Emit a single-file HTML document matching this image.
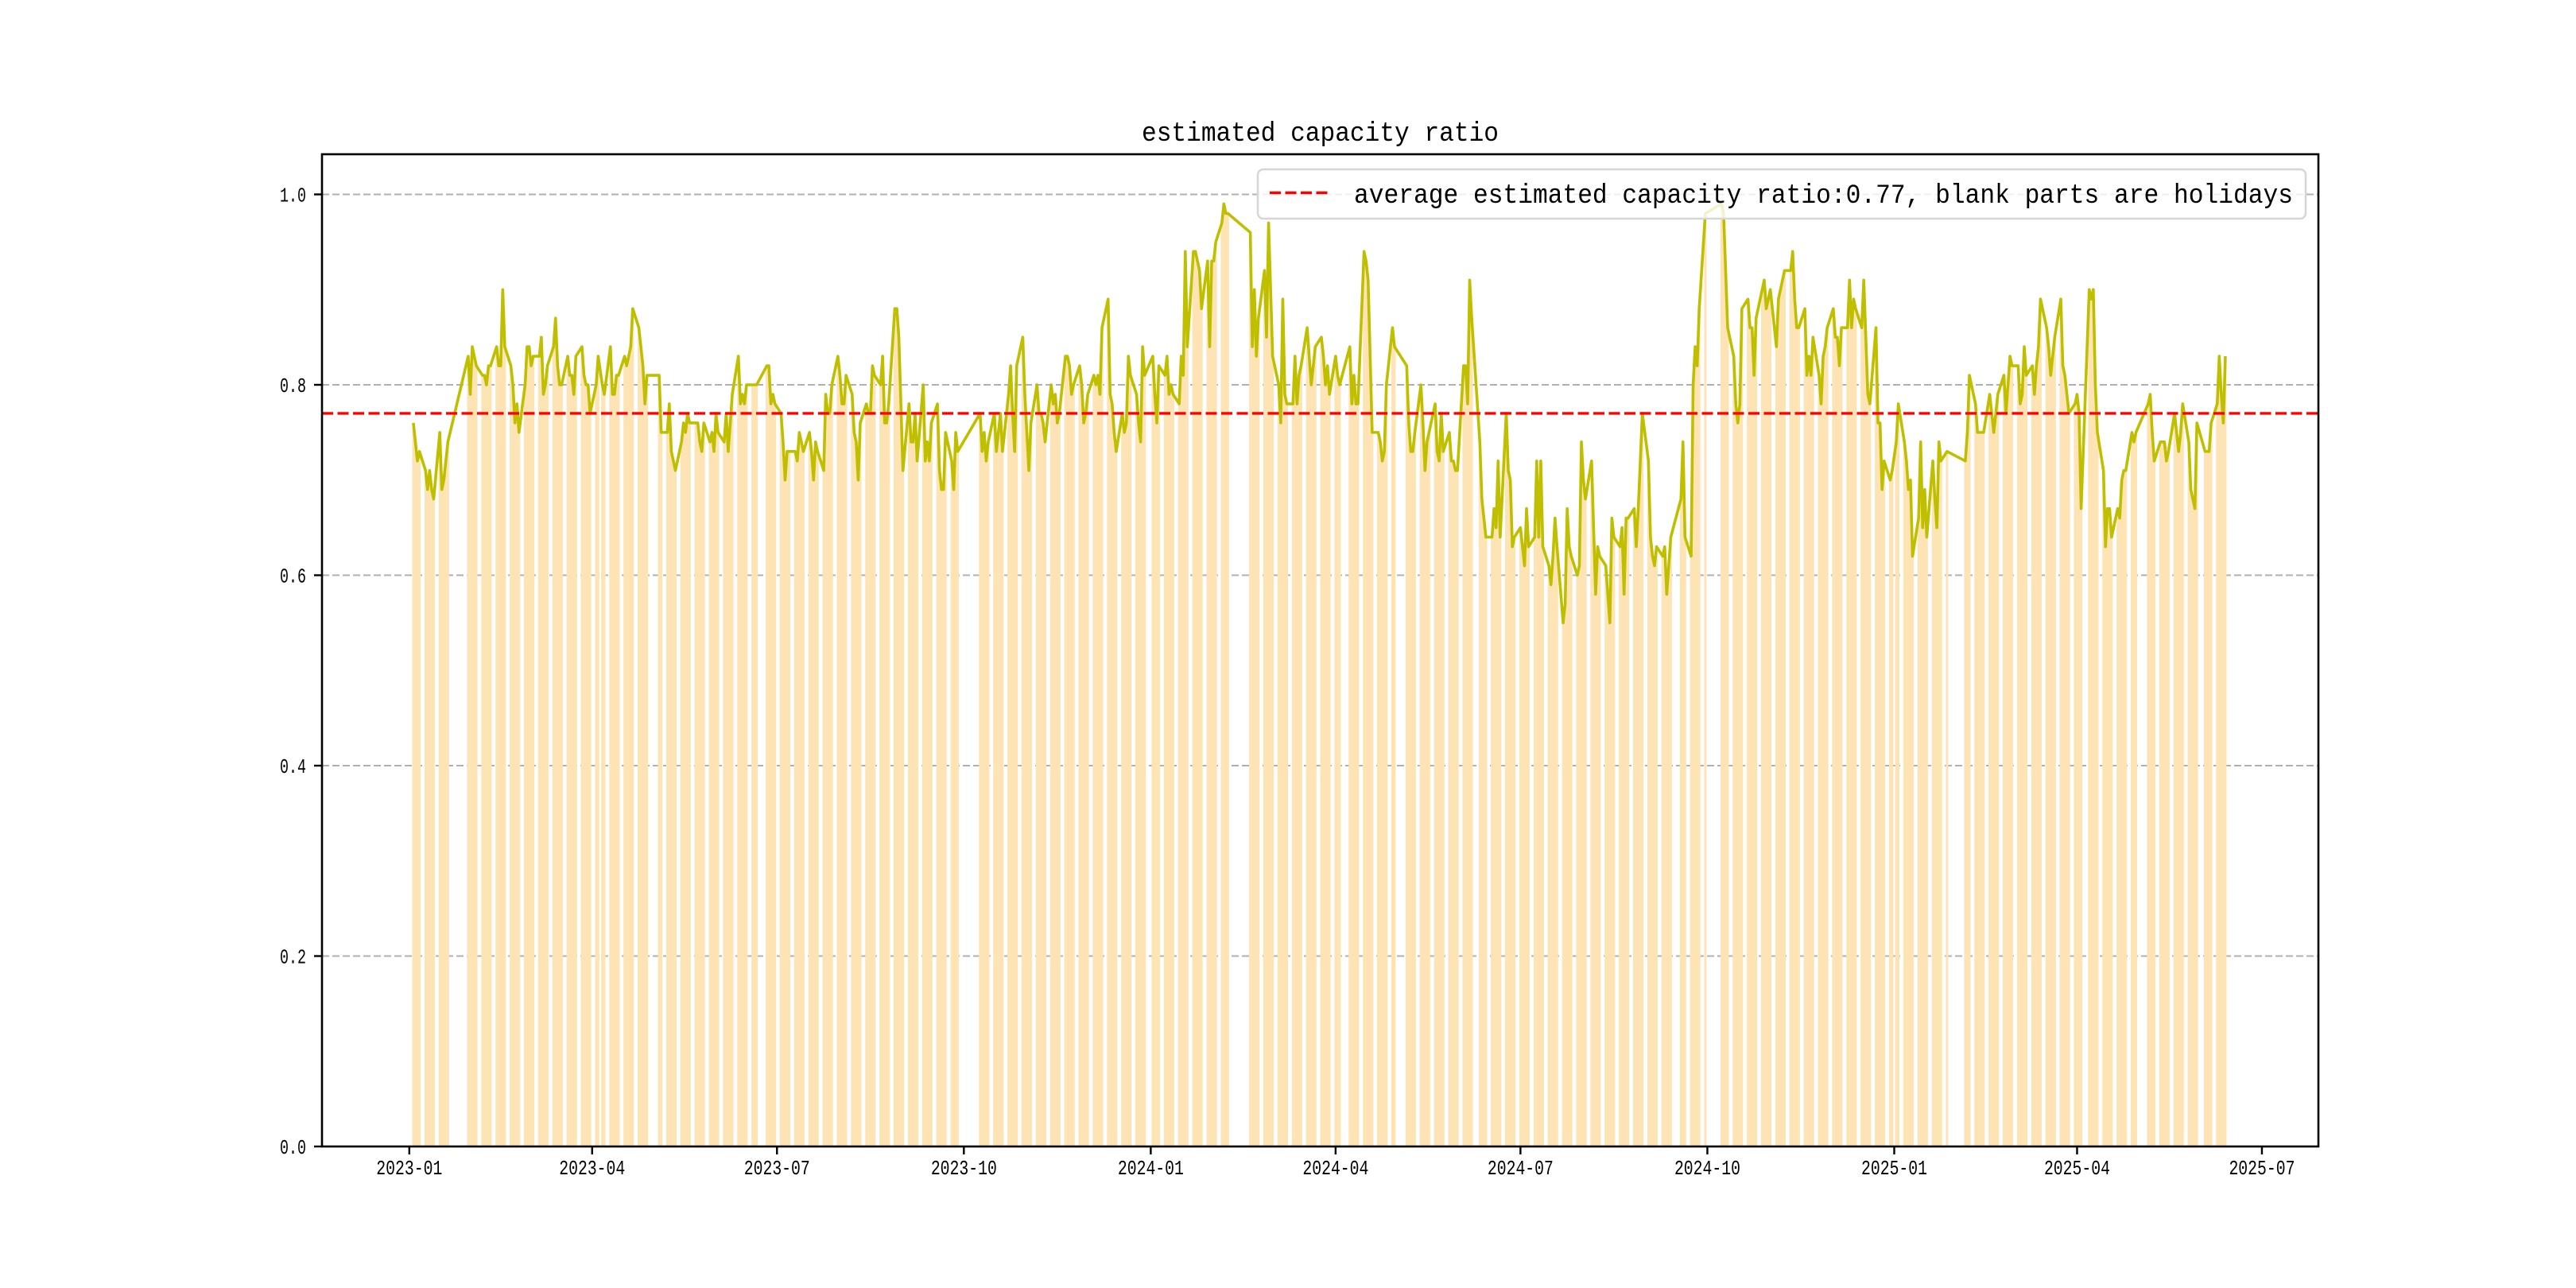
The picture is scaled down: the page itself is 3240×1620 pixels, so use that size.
<!DOCTYPE html>
<html><head><meta charset="utf-8"><title>estimated capacity ratio</title>
<style>html,body{margin:0;padding:0;background:#fff}svg{display:block}</style></head>
<body>
<svg id="chart" xmlns="http://www.w3.org/2000/svg" width="3240" height="1620" viewBox="0 0 3240 1620">
<rect x="0" y="0" width="3240" height="1620" fill="#fff"/>
<g id="grid"></g>
<g id="bars"></g>
<path id="series" fill="none" stroke="#bfbf00" stroke-width="3.6" stroke-linejoin="round"/>
<line id="avg" stroke="#ff0000" stroke-width="3.4" stroke-dasharray="14 5.5"/>
<rect x="405" y="194" width="2511" height="1248" fill="none" stroke="#000" stroke-width="2.6"/>
<g id="xticks"></g>
<g id="yticks"></g>
<text x="1660.5" y="177" text-anchor="middle" font-family="Liberation Mono, monospace" font-size="34" textLength="449" lengthAdjust="spacingAndGlyphs" fill="#000">estimated capacity ratio</text>
<g>
<rect x="1582" y="213" width="1318" height="62" rx="7" ry="7" fill="#fff" fill-opacity="0.8" stroke="#d6d6d6" stroke-width="2.5"/>
<line x1="1597" y1="242.5" x2="1671" y2="242.5" stroke="#ff0000" stroke-width="3.4" stroke-dasharray="14 5.5"/>
<text x="1703" y="255" font-family="Liberation Mono, monospace" font-size="34" textLength="1181" lengthAdjust="spacingAndGlyphs" fill="#000">average estimated capacity ratio:0.77, blank parts are holidays</text>
</g>
</svg>
<script>
// ---- data (values in hundredths; one row per Mon..Fri week, null = holiday) ----
const startMonday = '2023-01-02';
const weekValues = [
[null,76,74,72,73],[71,69,71,69,68],[75,69,70,72,74],[null,null,null,null,null],
[83,79,84,83,82],[81,81,80,82,82],[84,82,82,90,84],[82,80,76,78,75],
[80,84,84,82,83],[83,85,79,80,82],[84,87,82,80,80],[83,81,81,79,83],
[84,81,80,80,77],[80,83,null,80,79],[84,79,79,81,81],[83,82,83,84,88],
[86,84,82,78,81],[null,null,null,81,75],[75,78,73,72,71],[74,76,75,77,76],
[76,76,74,73,76],[74,75,73,77,75],[74,77,73,76,79],[83,78,79,78,80],
[80,80,80,null,null],[82,82,78,79,78],[77,74,70,73,73],[73,72,75,74,73],
[75,73,70,74,73],[71,79,77,77,80],[83,81,78,78,81],[79,75,74,70,76],
[78,77,77,82,81],[80,83,76,76,78],[88,88,85,78,71],[78,74,74,77,72],
[80,72,74,72,76],[78,71,69,69,75],[72,69,75,73,null],[null,null,null,null,null],
[77,73,75,72,74],[77,73,75,77,73],[79,82,77,73,82],[85,79,75,71,76],
[80,77,77,76,74],[80,78,79,76,77],[83,83,82,79,80],[82,80,76,77,79],
[81,80,81,79,86],[89,79,78,75,73],[77,75,76,83,81],[79,76,74,84,81],
[null,83,79,76,82],[81,83,79,80,79],[78,83,81,94,84],[94,94,93,92,88],
[93,84,93,93,95],[97,99,98,98,null],[null,null,null,null,null],[96,84,90,83,87],
[92,85,97,90,83],[80,76,89,79,78],[78,83,78,81,82],[86,83,80,82,84],
[85,83,80,82,79],[83,81,80,null,null],[84,78,81,78,78],[94,93,91,83,75],
[75,74,72,73,80],[86,84,null,null,null],[82,76,73,73,75],[80,76,71,74,75],
[78,73,72,77,73],[75,72,72,71,71],[82,82,78,91,87],[null,74,68,66,64],
[64,67,65,72,64],[77,71,70,63,64],[65,63,61,67,63],[64,72,64,72,63],
[61,59,62,66,63],[55,57,67,63,62],[60,61,74,70,68],[72,65,58,63,62],
[61,58,55,66,64],[63,65,58,66,66],[67,63,67,72,77],[72,64,62,61,63],
[62,63,58,61,64],[null,null,68,74,64],[62,80,84,82,88],[98,null,null,null,null],
[null,99,98,92,86],[83,78,76,78,88],[89,86,86,81,87],[90,91,88,89,90],
[84,89,90,91,92],[92,94,89,86,86],[88,81,83,81,85],[81,78,83,84,86],
[88,85,85,82,86],[86,91,86,89,88],[86,91,85,79,78],[86,76,76,69,72],
[70,71,null,74,78],[74,72,69,70,62],[66,74,65,69,64],[72,68,65,74,72],
[73,null,null,null,null],[null,null,72,75,81],[78,75,75,75,75],[79,77,75,77,79],
[81,77,80,83,82],[82,78,79,84,81],[82,79,82,84,89],[86,84,81,83,85],
[89,82,81,79,77],[78,79,77,67,null],[90,89,90,80,75],[71,63,67,67,64],
[67,66,70,71,71],[75,74,75,null,null],[null,78,79,75,72],[74,74,74,72,73],
[77,75,73,75,78],[74,69,68,67,76],[null,73,73,73,76],[78,83,79,76,83]
];
const averageValue = 0.77;
const yTickValues = [0.0, 0.2, 0.4, 0.6, 0.8, 1.0];
const yTickLabels = ['0.0', '0.2', '0.4', '0.6', '0.8', '1.0'];
const xTickDates = ['2023-01-01','2023-04-01','2023-07-01','2023-10-01','2024-01-01','2024-04-01','2024-07-01','2024-10-01','2025-01-01','2025-04-01','2025-07-01'];
const xTickLabels = ['2023-01','2023-04','2023-07','2023-10','2024-01','2024-04','2024-07','2024-10','2025-01','2025-04','2025-07'];

// ---- axes ----
const NS = 'http://www.w3.org/2000/svg';
const DAY = 86400000;
const T0 = Date.UTC(2023, 0, 1);
const PLOT = {left: 405, right: 2916, top: 194, bottom: 1442};
function parseDate(s){ const p = s.split('-').map(Number); return Date.UTC(p[0], p[1]-1, p[2]); }
function xScale(t){ return 514.8 + 2.555 * (t - T0) / DAY; }
function yScale(v){ return 1442 - v * 1197.5; }
function mk(tag, attrs){ const e = document.createElementNS(NS, tag); for (const k in attrs) e.setAttribute(k, attrs[k]); return e; }

const dates = [], values = [];
const m0 = parseDate(startMonday);
weekValues.forEach((wk, wi) => {
  wk.forEach((v, di) => {
    if (v === null) return;
    dates.push(m0 + (wi * 7 + di) * DAY);
    values.push(v / 100);
  });
});

// gridlines + y ticks
const grid = document.getElementById('grid');
const yt = document.getElementById('yticks');
yTickValues.forEach((v, i) => {
  const y = yScale(v);
  if (v > 0) {
    const g = mk('line', {x1: PLOT.left, x2: PLOT.right, y1: y, y2: y, stroke: '#b0b0b0', 'stroke-width': 2, 'stroke-dasharray': '9 4'});
    
    
    grid.appendChild(g);
  }
  const tk = mk('line', {x1: PLOT.left - 10, x2: PLOT.left, y1: y, y2: y, stroke: '#000', 'stroke-width': 2.4});
  
  
  yt.appendChild(tk);
  const tx = mk('text', {x: PLOT.left - 20, y: y + 9, 'text-anchor': 'end', 'font-family': 'Liberation Mono, monospace', 'font-size': 26, textLength: 33, lengthAdjust: 'spacingAndGlyphs'});
  tx.textContent = yTickLabels[i];
  
  
  yt.appendChild(tx);
});

// x ticks
const xt = document.getElementById('xticks');
xTickDates.forEach((d, i) => {
  const x = xScale(parseDate(d));
  const tk = mk('line', {x1: x, x2: x, y1: PLOT.bottom, y2: PLOT.bottom + 10, stroke: '#000', 'stroke-width': 2.4});
  
  
  xt.appendChild(tk);
  const tx = mk('text', {x: x, y: 1477, 'text-anchor': 'middle', 'font-family': 'Liberation Mono, monospace', 'font-size': 26, textLength: 83, lengthAdjust: 'spacingAndGlyphs'});
  tx.textContent = xTickLabels[i];
  
  
  xt.appendChild(tx);
});

// bars
const bars = document.getElementById('bars');
const BW = 2.9;
dates.forEach((t, i) => {
  const x = xScale(t), y = yScale(values[i]);
  const r = mk('rect', {x: x - BW/2, y: y, width: BW, height: yScale(0) - y, fill: '#fee3b4'});
  
  
  bars.appendChild(r);
});

// line
let d = '';
dates.forEach((t, i) => { d += (i ? 'L' : 'M') + xScale(t).toFixed(2) + ' ' + yScale(values[i]).toFixed(2); });
document.getElementById('series').setAttribute('d', d);

// average
const avg = document.getElementById('avg');
avg.setAttribute('x1', PLOT.left); avg.setAttribute('x2', PLOT.right);
avg.setAttribute('y1', yScale(averageValue)); avg.setAttribute('y2', yScale(averageValue));
</script>
</body></html>
